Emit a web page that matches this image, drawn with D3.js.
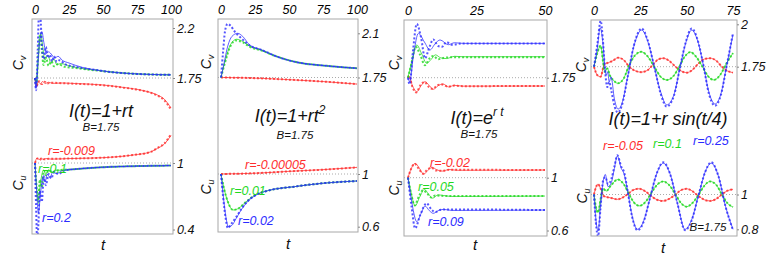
<!DOCTYPE html>
<html>
<head>
<meta charset="utf-8">
<script src="https://cdn.jsdelivr.net/npm/d3@7"></script>
<style>
body { margin: 0; background: #fff; }
text { font-family: "Liberation Sans", Arial, sans-serif; font-style: italic; }
</style>
</head>
<body>
<div id="chart"></div>
<script>

// ---- data: [t, value] ----
// panel 1 : I(t)=1+rt
var p1vRed   = [[0,1.75],[1,1.675],[2.5,1.715],[4,1.698],[5.5,1.718],[7.5,1.70],[10,1.712],[13,1.702],[20,1.705],[30,1.70],[50,1.687],[65,1.665],[75,1.648],[85,1.62],[90,1.597],[95,1.56],[100,1.48]];
var p1vRedD  = [[0,1.75],[1.2,1.68],[3,1.72],[5,1.695],[7,1.716],[9,1.70],[12,1.708],[20,1.703],[30,1.698],[50,1.685],[65,1.663],[75,1.646],[85,1.617],[90,1.592],[95,1.55],[100,1.465]];
var p1vGreen = [[0,1.75],[1,1.70],[2.5,1.95],[4.2,2.153],[5.5,2.05],[7.3,1.912],[9.6,1.957],[11.5,1.885],[14,1.92],[16,1.87],[19,1.88],[25,1.86],[35,1.835],[45,1.82],[55,1.805],[70,1.79],[85,1.782],[100,1.778]];
var p1vGreenD= [[0,1.75],[1,1.70],[2.5,1.98],[3.7,2.14],[5,2.0],[6.3,1.867],[8,1.935],[10,1.86],[12,1.90],[14,1.855],[17,1.875],[22,1.85],[30,1.84],[40,1.825],[55,1.805],[70,1.79],[85,1.782],[100,1.778]];
var p1vBlue  = [[0,1.75],[0.7,1.66],[2,1.85],[3.5,2.08],[5.1,2.167],[6.5,2.07],[8.2,1.97],[10,1.985],[12.5,1.957],[14.5,1.93],[17,1.945],[20,1.91],[25,1.885],[35,1.845],[45,1.822],[55,1.805],[70,1.79],[85,1.782],[100,1.778]];
var p1vBlueD = [[0,1.75],[0.8,1.64],[2,2.0],[3,2.35],[4,2.3],[5,2.05],[6.5,1.92],[8,2.03],[9.5,1.93],[11,1.96],[12.5,1.90],[14,1.945],[16,1.895],[18,1.91],[22,1.875],[30,1.85],[45,1.822],[55,1.805],[70,1.79],[85,1.782],[100,1.778]];
var p1uRed   = [[0,1],[1.5,1.045],[3,1.03],[4.5,1.045],[6,1.032],[8,1.04],[12,1.035],[25,1.04],[50,1.048],[72,1.072],[85,1.10],[90,1.132],[95,1.17],[100,1.25]];
var p1uRedD  = [[0,1],[1.8,1.04],[3.5,1.028],[5,1.042],[7,1.033],[10,1.038],[25,1.04],[50,1.048],[72,1.072],[85,1.10],[90,1.135],[95,1.175],[100,1.26]];
var p1uGreen = [[0,1],[1,0.82],[2.4,0.667],[4,0.82],[6.3,0.937],[8,0.90],[10,0.94],[12,0.915],[15,0.935],[20,0.935],[30,0.945],[50,0.962],[75,0.972],[100,0.977]];
var p1uGreenD= [[0,1],[1,0.8],[2.2,0.64],[3.6,0.85],[5,0.78],[6.5,0.93],[8,0.89],[10,0.935],[13,0.915],[17,0.935],[30,0.945],[50,0.962],[75,0.972],[100,0.977]];
var p1uBlue  = [[0,1],[1.2,0.75],[2.5,0.55],[4,0.72],[6,0.88],[7.5,0.83],[9,0.90],[11,0.87],[13,0.915],[16,0.905],[20,0.93],[30,0.945],[50,0.962],[75,0.972],[100,0.977]];
var p1uBlueD = [[0,1],[0.8,0.6],[1.6,0.3],[2.5,0.45],[3.5,0.75],[5,0.65],[6.5,0.88],[8,0.80],[10,0.90],[12,0.86],[14,0.92],[17,0.90],[22,0.935],[30,0.945],[50,0.962],[75,0.972],[100,0.977]];

// panel 2 : I(t)=1+rt^2
var p2vRed   = [[0,1.75],[25,1.745],[50,1.733],[75,1.718],[100,1.698]];
var p2vGreen = [[0,1.75],[3,1.88],[7,2.01],[11.5,2.053],[16,2.035],[20.8,2.0],[30,1.965],[40,1.92],[54,1.875],[79,1.841],[100,1.823]];
var p2vGreenD= [[0,1.75],[3,1.87],[7,2.0],[11,2.043],[16,2.028],[20.8,1.995],[30,1.963],[40,1.92],[54,1.875],[79,1.841],[100,1.823]];
var p2vBlue  = [[0,1.75],[2,1.85],[5,2.0],[8,2.075],[12.3,2.10],[16,2.075],[20.8,2.01],[30,1.968],[40,1.92],[54,1.875],[79,1.841],[100,1.823]];
var p2vBlueD = [[0,1.75],[1.5,1.95],[3,2.12],[4.9,2.175],[7,2.16],[10,2.115],[15,2.06],[20.8,2.005],[30,1.968],[40,1.92],[54,1.875],[79,1.841],[100,1.823]];
var p2uRed   = [[0,1],[25,1.006],[50,1.02],[75,1.033],[100,1.05]];
var p2uGreen = [[0,1],[2,0.9],[5,0.79],[9,0.727],[13,0.74],[18,0.785],[25,0.84],[35,0.875],[54,0.904],[75,0.93],[100,0.947]];
var p2uBlue  = [[0,1],[1.5,0.85],[3.5,0.68],[5.5,0.60],[8,0.61],[11,0.66],[15,0.73],[20,0.795],[25,0.835],[35,0.875],[54,0.904],[75,0.93],[100,0.947]];
var p2uBlueD = [[0,1],[1.5,0.83],[3.5,0.66],[5,0.59],[7.5,0.62],[11,0.67],[15,0.735],[20,0.797],[25,0.836],[35,0.875],[54,0.904],[75,0.93],[100,0.947]];

// panel 3 : I(t)=e^(rt)
var p3vRed   = [[0,1.75],[0.4,1.76],[1.6,1.69],[3.2,1.644],[4.8,1.69],[6.2,1.72],[7.8,1.69],[9.2,1.662],[11,1.69],[12.8,1.702],[14.8,1.68],[17,1.692],[20,1.686],[50,1.687]];
var p3vRedD  = [[0,1.75],[0.4,1.765],[1.6,1.68],[3.0,1.638],[4.6,1.695],[6.0,1.718],[7.6,1.68],[9.0,1.665],[11,1.695],[12.5,1.698],[14.5,1.682],[17,1.69],[20,1.686],[50,1.687]];
var p3vGreen = [[0,1.75],[1.5,1.88],[3.2,1.998],[5,1.93],[6.8,1.859],[8.5,1.89],[10,1.923],[12,1.90],[14,1.895],[17,1.912],[20,1.909],[50,1.909]];
var p3vGreenD= [[0,1.75],[1.4,1.87],[2.8,1.985],[4.5,1.92],[6.2,1.845],[7.8,1.895],[9.2,1.915],[11,1.89],[13,1.90],[16,1.905],[50,1.905]];
var p3vBlue  = [[0,1.75],[0.6,1.72],[2,1.92],[3.8,2.086],[6,2.02],[8,1.96],[10,2.01],[11.7,2.036],[14.7,2.0],[17,2.015],[20,2.01],[50,2.01]];
var p3vBlueD = [[0,1.75],[0.6,1.70],[1.8,1.95],[3.2,2.157],[4.8,2.05],[6.2,1.897],[7.8,1.98],[9.2,2.04],[11,1.99],[12.5,1.985],[14,2.02],[16,2.0],[20,2.01],[50,2.01]];
var p3uRed   = [[0,1],[1.2,1.07],[2.6,1.109],[4.2,1.07],[5.7,1.026],[7.2,1.055],[8.8,1.079],[10.5,1.06],[12.5,1.05],[15,1.062],[18,1.056],[50,1.058]];
var p3uRedD  = [[0,1],[1.1,1.065],[2.4,1.105],[4,1.065],[5.5,1.03],[7,1.06],[8.5,1.075],[10.2,1.055],[12.5,1.052],[15,1.06],[50,1.058]];
var p3uGreen = [[0,1],[1.2,0.88],[2.6,0.786],[4.2,0.85],[6,0.912],[7.5,0.875],[9,0.845],[11,0.87],[13,0.865],[16,0.858],[50,0.861]];
var p3uGreenD= [[0,1],[1.2,0.875],[2.4,0.79],[4,0.86],[5.5,0.905],[7,0.88],[8.5,0.85],[10,0.865],[13,0.862],[50,0.861]];
var p3uBlue  = [[0,1],[1.5,0.80],[3.2,0.667],[4.8,0.73],[6.2,0.786],[7.8,0.75],[9.2,0.73],[11,0.75],[13,0.76],[16,0.752],[50,0.755]];
var p3uBlueD = [[0,1],[1.3,0.78],[2.6,0.617],[4.5,0.72],[6.8,0.806],[8.5,0.76],[10,0.74],[12,0.758],[14,0.76],[50,0.755]];

// panel 4 : I(t)=1+r sin(t/4)
var p4vRed   = [[0,1.75],[1.8,1.70],[3.6,1.691],[5.4,1.76],[8,1.775],[10.2,1.785],[12.9,1.803],[16,1.79],[19,1.75],[22,1.727],[25.5,1.718],[29,1.73],[32,1.765],[35,1.795],[37.4,1.80],[40.5,1.785],[44,1.75],[47,1.725],[50,1.715],[53,1.73],[56,1.765],[59.5,1.795],[62.6,1.80],[66,1.785],[69,1.75],[72,1.725],[75,1.715]];
var p4vGreen = [[0,1.75],[1.8,1.83],[3.6,1.874],[5,1.77],[5.8,1.72],[7.2,1.74],[8.5,1.70],[10.5,1.67],[12.9,1.652],[16,1.68],[19,1.76],[22,1.815],[25.5,1.838],[29,1.81],[32.5,1.75],[36,1.69],[39.2,1.672],[42.5,1.69],[46,1.75],[49,1.81],[52,1.836],[55,1.81],[58.5,1.75],[61.5,1.695],[64.7,1.672],[68,1.70],[71.5,1.77],[75,1.83]];
var p4vBlue  = [[0,1.75],[1.8,1.86],[3.3,1.98],[4.7,1.90],[5.8,1.76],[6.6,1.70],[7.4,1.72],[8.2,1.66],[9.2,1.69],[11,1.56],[13,1.50],[15,1.53],[18,1.68],[21.5,1.87],[25.7,1.966],[29,1.90],[32.5,1.75],[36,1.60],[39.2,1.525],[43,1.58],[46.5,1.75],[49.5,1.89],[52.7,1.966],[56,1.90],[59,1.76],[62,1.60],[65.3,1.53],[68.5,1.59],[71.5,1.75],[75,1.94]];
var p4vBlueD = [[0,1.75],[1.8,1.88],[3.6,2.02],[4.7,1.92],[5.8,1.75],[7.2,1.63],[8.2,1.66],[9.5,1.60],[11,1.52],[12.9,1.48],[15,1.52],[18,1.68],[21.5,1.875],[25.7,1.975],[29,1.905],[32.5,1.75],[36,1.59],[39.2,1.515],[43,1.575],[46.5,1.75],[49.5,1.895],[52.7,1.975],[56,1.905],[59,1.76],[62,1.59],[65.3,1.52],[68.5,1.585],[71.5,1.75],[75,1.95]];
var p4uRed   = [[0,1],[1,1.04],[2.2,1.06],[3.5,1.035],[5.4,0.99],[8,0.983],[10,0.978],[12.5,0.972],[15,0.98],[18,1.0],[21,1.025],[24.2,1.033],[27.5,1.02],[31,0.99],[34,0.97],[37.4,0.963],[40.5,0.975],[44,1.0],[47,1.025],[50,1.033],[53,1.02],[56.5,0.99],[59.5,0.97],[62.6,0.963],[66,0.975],[69,1.0],[72,1.022],[75,1.03]];
var p4uGreen = [[0,1],[1,0.93],[2.2,0.896],[3.5,0.97],[4.9,1.033],[6.7,1.02],[9,1.05],[12.9,1.086],[16,1.06],[19,1.0],[21.5,0.955],[24.5,0.935],[28,0.96],[31,1.01],[34,1.055],[37.4,1.075],[40.5,1.055],[44,1.0],[47,0.95],[50,0.93],[53,0.95],[56.5,1.0],[59.5,1.05],[62.6,1.075],[66,1.055],[69,1.0],[72,0.95],[75,0.928]];
var p4uBlue  = [[0,1],[1,0.86],[2.2,0.79],[3.5,0.93],[4.9,1.07],[6.1,1.115],[7.6,1.045],[9.4,1.07],[11,1.15],[12.6,1.222],[14.7,1.15],[16.2,1.12],[18,1.03],[20.5,0.88],[23.4,0.80],[26.5,0.84],[30,0.97],[33.5,1.11],[37.4,1.18],[41,1.12],[45,0.95],[49.1,0.80],[52.5,0.85],[56.5,1.0],[60,1.13],[63.3,1.18],[67,1.11],[71,0.93],[75,0.80]];
var p4uBlueD = [[0,1],[1,0.84],[2.2,0.76],[3.5,0.92],[4.9,1.08],[6.1,1.10],[7.6,1.06],[9.4,1.09],[11,1.16],[12.6,1.225],[14.7,1.16],[16.2,1.13],[18,1.03],[20.5,0.875],[23.4,0.795],[26.5,0.835],[30,0.97],[33.5,1.11],[37.4,1.185],[41,1.12],[45,0.95],[49.1,0.795],[52.5,0.845],[56.5,1.0],[60,1.13],[63.3,1.185],[67,1.11],[71,0.93],[75,0.795]];

// tick labels
var p1Top = [0,25,50,75,100], p2Top = [0,25,50,75,100], p3Top = [0,25,50], p4Top = [0,25,50,75];
var p1Right = [[2.2,1.75],[1,0.4]], p2Right = [[2.1,1.75],[1,0.6]], p3Right = [[1.75],[1,0.6]], p4Right = [[2,1.75],[1,0.8]];
var p1Labels = ["r=-0.009","r=0.1","r=0.2"];
var p2Labels = ["r=-0.00005","r=0.01","r=0.02"];
var p3Labels = ["r=-0.02","r=0.05","r=0.09"];
var p4Labels = ["r=-0.05","r=0.1","r=0.25"];

var red = "#ff2d2d", green = "#1fd81f", blue = "#2b2bff";

var panels = [
  { tmax:100, box:[32,19,173,234], xr:[35,171], v:[[1.75,78],[2.2,28]], u:[[1,163],[0.4,229.5]],
    top:p1Top, right:p1Right, labels:p1Labels,
    lab:[[48,155],[38,173],[42,222]],
    series:{ v:[p1vRed,p1vRedD,p1vGreen,p1vGreenD,p1vBlue,p1vBlueD], u:[p1uRed,p1uRedD,p1uGreen,p1uGreenD,p1uBlue,p1uBlueD] },
    title:[["I(t)=1+rt"]], tpos:[101,116.5], bpos:[101,131], cv:[23,63], cu:[23,183], tl:[103,250] },
  { tmax:100, box:[218,19,358,232], xr:[221,357], v:[[1.75,77.5],[2.1,33.3]], u:[[1,174],[0.6,226.7]],
    top:p2Top, right:p2Right, labels:p2Labels,
    lab:[[245,169],[230,195],[238,225]],
    series:{ v:[p2vRed,p2vRed,p2vGreen,p2vGreenD,p2vBlue,p2vBlueD], u:[p2uRed,p2uRed,p2uGreen,p2uGreen,p2uBlue,p2uBlueD] },
    title:[["I(t)=1+rt"],["2","sup"]], tpos:[290,122], bpos:[295,138.5], cv:[211,62], cu:[211,187], tl:[288,249] },
  { tmax:50, box:[404,20,547,236], xr:[408,545], v:[[1.75,77.7],[2.1,31.5]], u:[[1,177.7],[0.6,230.5]],
    top:p3Top, right:p3Right, labels:p3Labels,
    lab:[[430,167],[418,191],[428,226]],
    series:{ v:[p3vRed,p3vRedD,p3vGreen,p3vGreenD,p3vBlue,p3vBlueD], u:[p3uRed,p3uRedD,p3uGreen,p3uGreenD,p3uBlue,p3uBlueD] },
    title:[["I(t)=e"],["r t","sup"]], tpos:[477,123.5], bpos:[479,137.5], cv:[399,63], cu:[399,188], tl:[475,250] },
  { tmax:75, box:[591,20,737,236], xr:[594,733], v:[[1.75,66.7],[2,24.3]], u:[[1,194.5],[0.8,229.3]],
    top:p4Top, right:p4Right, labels:p4Labels,
    lab:[[603,150],[653,148],[693,145]],
    series:{ v:[p4vRed,p4vRed,p4vGreen,p4vGreen,p4vBlue,p4vBlueD], u:[p4uRed,p4uRed,p4uGreen,p4uGreen,p4uBlue,p4uBlueD] },
    title:[["I(t)=1+r sin(t/4)"]], tpos:[668,125], bpos:[708,231], cv:[586,65], cu:[587,196], tl:[663,253] }
];

var colors = [red, red, green, green, blue, blue];

var svg = d3.select("#chart").append("svg")
    .attr("width", 776)
    .attr("height", 258);

panels.forEach(function(p, i){
  var x = d3.scaleLinear().domain([0, p.tmax]).range(p.xr);
  var yv = d3.scaleLinear().domain([p.v[0][0], p.v[1][0]]).range([p.v[0][1], p.v[1][1]]);
  var yu = d3.scaleLinear().domain([p.u[0][0], p.u[1][0]]).range([p.u[0][1], p.u[1][1]]);
  var b = p.box;
  var g = svg.append("g");

  g.append("clipPath").attr("id", "clip" + i)
    .append("rect")
    .attr("x", b[0]).attr("y", b[1])
    .attr("width", b[2] - b[0]).attr("height", b[3] - b[1]);

  // grey dotted reference lines at 1.75 and 1
  g.append("line")
    .attr("x1", b[0]).attr("x2", b[2])
    .attr("y1", yv(1.75)).attr("y2", yv(1.75))
    .attr("stroke", "#aaa").attr("stroke-dasharray", "1,2");
  g.append("line")
    .attr("x1", b[0]).attr("x2", b[2])
    .attr("y1", yu(1)).attr("y2", yu(1))
    .attr("stroke", "#aaa").attr("stroke-dasharray", "1,2");

  var curves = g.append("g").attr("clip-path", "url(#clip" + i + ")");
  [["v", yv], ["u", yu]].forEach(function(s){
    var y = s[1];
    var line = d3.line()
      .x(function(d){ return x(d[0]); })
      .y(function(d){ return y(d[1]); })
      .curve(d3.curveMonotoneX);
    p.series[s[0]].forEach(function(data, k){
      var dotted = k % 2 == 1;
      curves.append("path")
        .datum(data)
        .attr("d", line)
        .attr("fill", "none")
        .attr("stroke", colors[k])
        .attr("stroke-width", dotted ? 2 : 1)
        .attr("stroke-opacity", dotted ? 0.8 : 0.75)
        .attr("stroke-dasharray", dotted ? "2,2" : null);
    });
  });

  // frame
  g.append("rect")
    .attr("x", b[0]).attr("y", b[1])
    .attr("width", b[2] - b[0]).attr("height", b[3] - b[1])
    .attr("fill", "none").attr("stroke", "#a8a8a8");

  // top t axis
  var ax = g.append("g")
    .attr("transform", "translate(0," + b[1] + ")")
    .call(d3.axisTop(x).tickValues(p.top).tickSize(0).tickPadding(5));
  ax.select(".domain").remove();
  ax.selectAll("text").attr("font-size", 12.5).attr("font-family", null);

  // right value axes
  [[yv, p.right[0]], [yu, p.right[1]]].forEach(function(r){
    var ay = g.append("g")
      .attr("transform", "translate(" + b[2] + ",0)")
      .call(d3.axisRight(r[0]).tickValues(r[1]).tickSize(2).tickPadding(2).tickFormat(function(d){ return d; }));
    ay.select(".domain").remove();
    ay.selectAll("line").attr("stroke", "#888");
    ay.selectAll("text").attr("font-size", 12.5).attr("font-family", null).attr("fill", "#111");
  });

  // r labels
  p.labels.forEach(function(txt, k){
    g.append("text")
      .attr("x", p.lab[k][0]).attr("y", p.lab[k][1])
      .attr("fill", colors[k * 2])
      .attr("font-size", 12.5)
      .text(txt);
  });

  // title
  var tt = g.append("text")
    .attr("x", p.tpos[0]).attr("y", p.tpos[1])
    .attr("text-anchor", "middle")
    .attr("font-size", 18)
    .attr("fill", "#111");
  p.title.forEach(function(part){
    var ts = tt.append("tspan").text(part[0]);
    if (part[1] == "sup") ts.attr("font-size", 12).attr("dy", -8);
  });

  g.append("text")
    .attr("x", p.bpos[0]).attr("y", p.bpos[1])
    .attr("text-anchor", "middle")
    .attr("font-size", 11.5)
    .attr("fill", "#111")
    .text("B=1.75");

  // C_v, C_u and t labels
  [["v", p.cv], ["u", p.cu]].forEach(function(c){
    var lt = g.append("text")
      .attr("transform", "translate(" + c[1][0] + "," + c[1][1] + ") rotate(-90)")
      .attr("text-anchor", "middle")
      .attr("font-size", 14)
      .attr("fill", "#111");
    lt.append("tspan").text("C");
    lt.append("tspan").attr("font-size", 9).attr("dy", 3).text(c[0]);
  });

  g.append("text")
    .attr("x", p.tl[0]).attr("y", p.tl[1])
    .attr("text-anchor", "middle")
    .attr("font-size", 15)
    .attr("fill", "#111")
    .text("t");
});

</script>
</body>
</html>
